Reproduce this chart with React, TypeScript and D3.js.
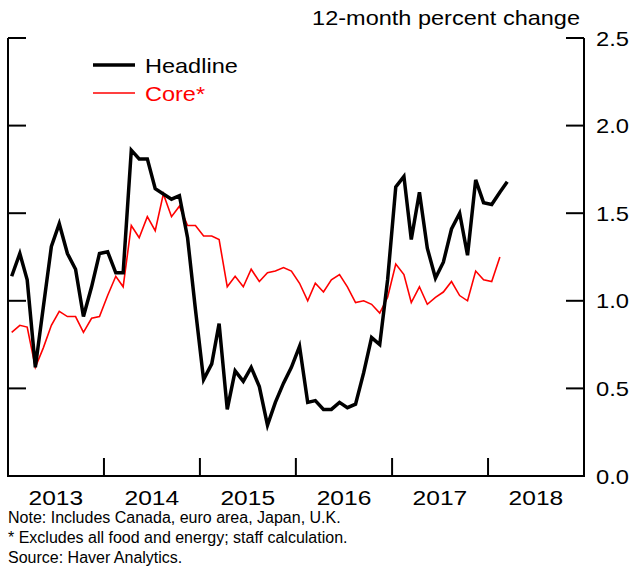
import { useEffect, useRef } from 'react';
import * as d3 from 'd3';

// monthly values, starting January 2013
const startYear = 2013;
const headline = [
  1.14, 1.27, 1.12, 0.62, 0.96, 1.31, 1.44, 1.27, 1.18, 0.91, 1.08, 1.27,
  1.28, 1.16, 1.16, 1.86, 1.81, 1.81, 1.64, 1.61, 1.58, 1.60, 1.36, 0.95,
  0.55, 0.64, 0.87, 0.38, 0.60, 0.54, 0.62, 0.51, 0.29, 0.42, 0.53, 0.62,
  0.74, 0.42, 0.43, 0.38, 0.38, 0.42, 0.39, 0.41, 0.59, 0.79, 0.75, 1.12,
  1.65, 1.71, 1.35, 1.62, 1.30, 1.13, 1.22, 1.41, 1.50, 1.26, 1.69, 1.56,
  1.55, 1.62, 1.68,
];
const core = [
  0.82, 0.86, 0.85, 0.62, 0.73, 0.86, 0.94, 0.91, 0.91, 0.82, 0.90, 0.91,
  1.03, 1.14, 1.08, 1.43, 1.36, 1.48, 1.40, 1.61, 1.48, 1.54, 1.43, 1.43,
  1.37, 1.37, 1.35, 1.08, 1.14, 1.08, 1.18, 1.11, 1.16, 1.17, 1.19, 1.17,
  1.10, 1.00, 1.10, 1.05, 1.12, 1.15, 1.08, 0.99, 1.00, 0.98, 0.93, 1.02,
  1.21, 1.15, 0.99, 1.08, 0.98, 1.02, 1.05, 1.11, 1.03, 1.00, 1.17, 1.12,
  1.11, 1.25,
];
const years = [2013, 2014, 2015, 2016, 2017, 2018];
const yTicks = [0, 0.5, 1.0, 1.5, 2.0, 2.5];
const notes = [
  'Note: Includes Canada, euro area, Japan, U.K.',
  '* Excludes all food and energy; staff calculation.',
  'Source: Haver Analytics.',
];

const font = 'Liberation Sans, Arial, sans-serif';

export default function App() {
  const svgRef = useRef<SVGSVGElement>(null);

  useEffect(() => {
    if (!svgRef.current) return;
    const svg = d3.select(svgRef.current);
    svg.selectAll('*').remove();

    const left = 8, right = 584, top = 38, bottom = 476;
    const tickLen = 18;

    const x = d3.scaleUtc()
      .domain([new Date(Date.UTC(startYear, 0, 1)), new Date(Date.UTC(2019, 0, 1))])
      .range([left, right]);
    const y = d3.scaleLinear().domain([0, 2.5]).range([bottom, top]);

    const monthDate = (i: number) => new Date(Date.UTC(startYear, i, 15));

    // the source text is a bit wider than Liberation Sans, so stretch it
    const wideText = (tx: number, ty: number, str: string, anchor = 'start', sx = 1.13, color = '#000') =>
      svg.append('text')
        .attr('transform', `translate(${tx},${ty}) scale(${sx},1)`)
        .attr('text-anchor', anchor)
        .style('font-family', font)
        .style('font-size', '21px')
        .style('fill', color)
        .text(str);

    const axisColor = '#000';

    // left, right and bottom axes
    svg.append('line').attr('x1', left).attr('x2', left).attr('y1', top).attr('y2', bottom)
      .attr('stroke', axisColor).attr('stroke-width', 2);
    svg.append('line').attr('x1', right).attr('x2', right).attr('y1', top).attr('y2', bottom)
      .attr('stroke', axisColor).attr('stroke-width', 2);
    svg.append('line').attr('x1', left - 1).attr('x2', right + 1).attr('y1', bottom).attr('y2', bottom)
      .attr('stroke', axisColor).attr('stroke-width', 2);

    // y ticks on both sides
    yTicks.filter(t => t > 0).forEach(t => {
      svg.append('line').attr('x1', left).attr('x2', left + tickLen)
        .attr('y1', y(t)).attr('y2', y(t)).attr('stroke', axisColor).attr('stroke-width', 2);
      svg.append('line').attr('x1', right - tickLen).attr('x2', right)
        .attr('y1', y(t)).attr('y2', y(t)).attr('stroke', axisColor).attr('stroke-width', 2);
    });
    yTicks.forEach(t => {
      wideText(right + 12, y(t) + 7.5, d3.format('.1f')(t));
    });

    // x ticks at year boundaries
    years.slice(1).forEach(yr => {
      const xp = x(new Date(Date.UTC(yr, 0, 1)));
      svg.append('line').attr('x1', xp).attr('x2', xp).attr('y1', bottom).attr('y2', bottom - tickLen)
        .attr('stroke', axisColor).attr('stroke-width', 2);
    });
    years.forEach(yr => {
      wideText(x(new Date(Date.UTC(yr, 6, 2))), 505, String(yr), 'middle', 1.17);
    });

    // unit label
    wideText(580, 25, '12-month percent change', 'end', 1.12);

    // series
    const line = d3.line<number>()
      .x((_, i) => x(monthDate(i)))
      .y(d => y(d));

    svg.append('path')
      .datum(core)
      .attr('fill', 'none')
      .attr('stroke', '#ff0000')
      .attr('stroke-width', 1.6)
      .attr('d', line);

    svg.append('path')
      .datum(headline)
      .attr('fill', 'none')
      .attr('stroke', '#000')
      .attr('stroke-width', 3.5)
      .attr('d', line);

    // legend
    svg.append('line').attr('x1', 93).attr('x2', 135).attr('y1', 65).attr('y2', 65)
      .attr('stroke', '#000').attr('stroke-width', 3.5);
    wideText(145, 73, 'Headline', 'start', 1.12);
    svg.append('line').attr('x1', 93).attr('x2', 135).attr('y1', 93).attr('y2', 93)
      .attr('stroke', '#ff0000').attr('stroke-width', 1.6);
    wideText(145, 101, 'Core*', 'start', 1.12, '#ff0000');

    // notes
    notes.forEach((n, i) => {
      svg.append('text')
        .attr('x', 8)
        .attr('y', 523 + i * 20)
        .style('font-family', font)
        .style('font-size', '16px')
        .text(n);
    });
  }, []);

  return (
    <svg
      ref={svgRef}
      width="630"
      height="567"
      style={{ position: 'absolute', left: 0, top: 0, background: '#fff' }}
    />
  );
}
